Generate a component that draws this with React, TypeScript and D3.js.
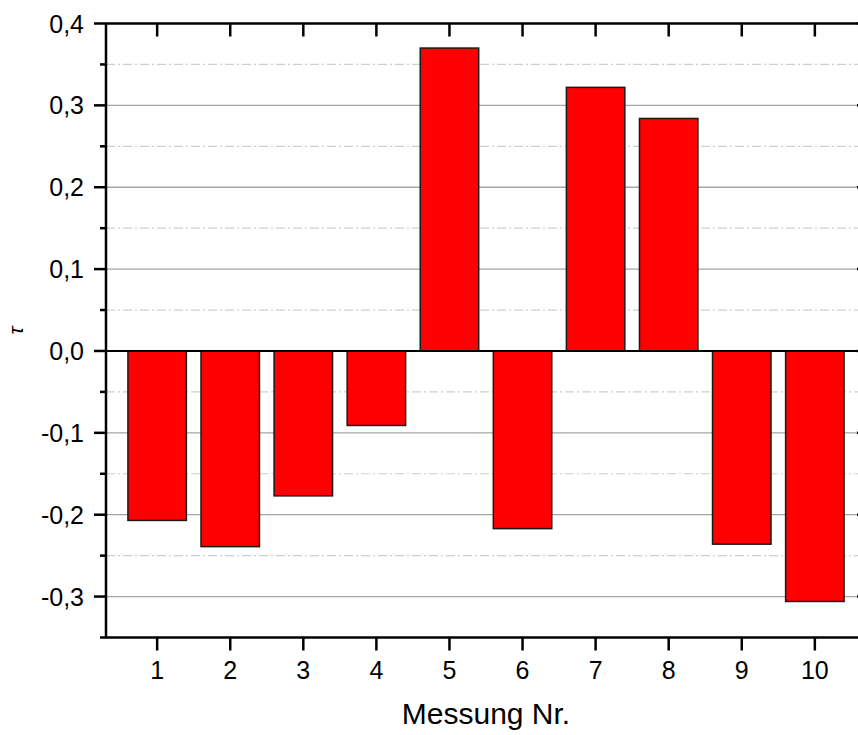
import React from "react";
import * as d3 from "d3";

// Measurement numbers and their tau values
const measurements = [1, 2, 3, 4, 5, 6, 7, 8, 9, 10];
const tauValues = [-0.207, -0.239, -0.177, -0.091, 0.370, -0.217, 0.322, 0.284, -0.236, -0.306];
const majorTicks = [-0.3, -0.2, -0.1, 0.0, 0.1, 0.2, 0.3, 0.4];
const minorTicks = [-0.35, -0.25, -0.15, -0.05, 0.05, 0.15, 0.25, 0.35];
const xTitle = "Messung Nr.";
const yTitle = "τ";

const W = 858;
const H = 735;
const left = 106;
const right = 866;
const top = 23.5;
const bottom = 637.5;
const font = "'Liberation Sans', Arial, sans-serif";

export default function App() {
  const x = d3.scaleLinear().domain([0.3, 10.7]).range([left, right]);
  const y = d3.scaleLinear().domain([-0.35, 0.4]).range([bottom, top]);
  const step = x(1) - x(0);
  const bw = step * 0.8;
  const fmt = (v: number) => d3.format(".1f")(v).replace(".", ",").replace("−", "-");

  return (
    <svg
      width={W}
      height={H}
      style={{ position: "absolute", left: 0, top: 0, background: "#fff" }}
    >
      {/* minor grid (dash-dot) */}
      {minorTicks.map((t) => (
        <line
          key={"mg" + t}
          x1={left}
          x2={right}
          y1={y(t)}
          y2={y(t)}
          stroke="#cfcfcf"
          strokeWidth={1.2}
          strokeDasharray="9 3 2 3"
        />
      ))}
      {/* major grid */}
      {majorTicks
        .filter((t) => t !== 0 && t !== 0.4)
        .map((t) => (
          <line
            key={"g" + t}
            x1={left}
            x2={right}
            y1={y(t)}
            y2={y(t)}
            stroke="#a6a6a6"
            strokeWidth={1.3}
          />
        ))}

      {/* bars */}
      {tauValues.map((v, i) => {
        const cx = x(measurements[i]);
        const y0 = y(0);
        const yv = y(v);
        return (
          <rect
            key={"b" + i}
            x={cx - bw / 2}
            y={Math.min(y0, yv)}
            width={bw}
            height={Math.abs(yv - y0)}
            fill="#ff0000"
            stroke="#1a1a1a"
            strokeWidth={1.5}
          />
        );
      })}

      {/* zero line */}
      <line x1={left} x2={right} y1={y(0)} y2={y(0)} stroke="#000" strokeWidth={2} />

      {/* frame */}
      <line x1={left} x2={left} y1={top} y2={bottom} stroke="#000" strokeWidth={2.5} />
      <line x1={left} x2={right} y1={bottom} y2={bottom} stroke="#000" strokeWidth={2.5} />
      <line x1={left} x2={right} y1={top} y2={top} stroke="#000" strokeWidth={2.5} />
      <line x1={right} x2={right} y1={top} y2={bottom} stroke="#000" strokeWidth={2.5} />

      {/* left ticks and labels */}
      {majorTicks.map((t) => (
        <g key={"yt" + t}>
          <line x1={left - 12} x2={left} y1={y(t)} y2={y(t)} stroke="#000" strokeWidth={2.5} />
          <line x1={right - 9} x2={right} y1={y(t)} y2={y(t)} stroke="#000" strokeWidth={2.5} />
          <text
            x={left - 22}
            y={y(t)}
            dy="0.36em"
            textAnchor="end"
            fontFamily={font}
            fontSize={25}
            fill="#000"
          >
            {fmt(t)}
          </text>
        </g>
      ))}
      {minorTicks.map((t) => (
        <line
          key={"ymt" + t}
          x1={left - 6}
          x2={left}
          y1={y(t)}
          y2={y(t)}
          stroke="#000"
          strokeWidth={2.5}
        />
      ))}

      {/* bottom and top ticks */}
      {measurements.map((m) => (
        <g key={"xt" + m}>
          <line x1={x(m)} x2={x(m)} y1={bottom} y2={bottom + 13} stroke="#000" strokeWidth={2.5} />
          <line x1={x(m)} x2={x(m)} y1={top} y2={top + 13} stroke="#000" strokeWidth={2.5} />
          <text
            x={x(m)}
            y={679}
            textAnchor="middle"
            fontFamily={font}
            fontSize={25}
            fill="#000"
          >
            {m}
          </text>
        </g>
      ))}

      {/* axis titles */}
      <text
        x={(left + right) / 2}
        y={724}
        textAnchor="middle"
        fontFamily={font}
        fontSize={30}
        fill="#000"
      >
        {xTitle}
      </text>
      <text
        transform={`translate(23, ${(top + bottom) / 2}) rotate(-90)`}
        textAnchor="middle"
        fontFamily={font}
        fontStyle="italic"
        fontSize={21}
        fill="#000"
      >
        {yTitle}
      </text>
    </svg>
  );
}
